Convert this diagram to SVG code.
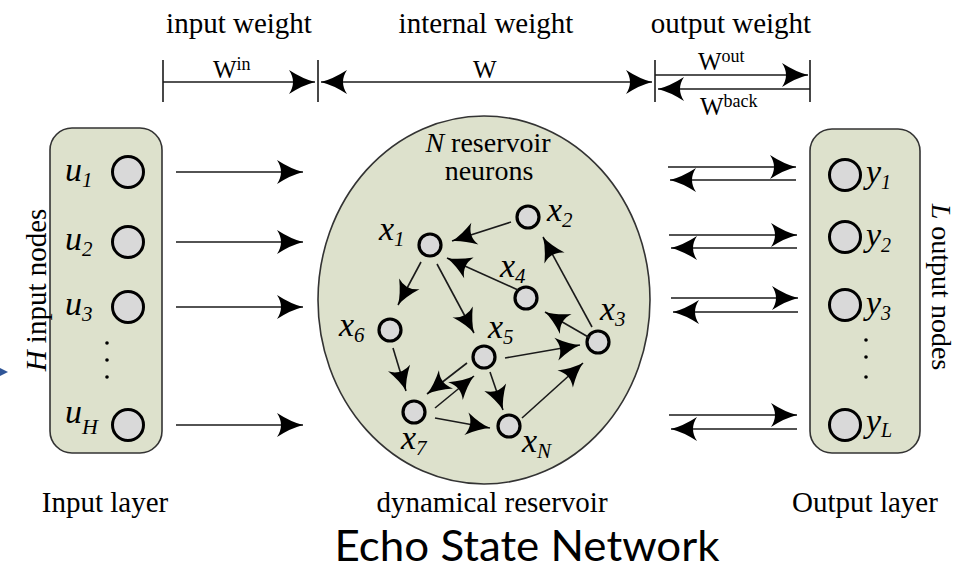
<svg xmlns="http://www.w3.org/2000/svg" width="956" height="571" viewBox="0 0 956 571">
<style>
.t{font-family:"Liberation Serif","Times New Roman",serif;fill:#000}
.lbl{font-size:29px}
.v{font-family:"Liberation Serif","Times New Roman",serif;font-style:italic;font-size:34px;fill:#000}
.w{font-family:"Liberation Serif","Times New Roman",serif;font-size:25px;fill:#000}
.ln{stroke:#1a1a1a;stroke-width:1.6;fill:none}
.tick{stroke:#1a1a1a;stroke-width:1.6}
.panel{fill:#dde1cc;stroke:#333;stroke-width:1.6}
.io{fill:#d9d9d9;stroke:#000;stroke-width:3}
.rn{fill:#d9d9d9;stroke:#000;stroke-width:3.2}
.dot{fill:#000}
</style>
<defs>
<marker id="ah" markerUnits="userSpaceOnUse" viewBox="-27 -13 28 26" refX="0" refY="0" markerWidth="28" markerHeight="26" orient="auto-start-reverse" overflow="visible">
<path d="M0,0 Q-12,-3 -26,-12 Q-18,0 -26,12 Q-12,3 0,0 Z" fill="#000"/>
</marker>
<marker id="as" markerUnits="userSpaceOnUse" viewBox="-25 -12 26 24" refX="0" refY="0" markerWidth="26" markerHeight="24" orient="auto" overflow="visible">
<path d="M0,0 Q-11,-2.8 -24,-11.5 Q-16.5,0 -24,11.5 Q-11,2.8 0,0 Z" fill="#000"/>
</marker>
</defs>
<rect width="956" height="571" fill="#fff"/>

<!-- headers -->
<text class="t lbl" x="239" y="33" text-anchor="middle">input weight</text>
<text class="t lbl" x="486" y="33" text-anchor="middle">internal weight</text>
<text class="t lbl" x="731" y="33" text-anchor="middle">output weight</text>

<!-- weight dimension lines -->
<g id="weights">
<line class="tick" x1="163" y1="60" x2="163" y2="102"/>
<line class="tick" x1="318" y1="60" x2="318" y2="102"/>
<line class="tick" x1="655" y1="60" x2="655" y2="102"/>
<line class="tick" x1="810" y1="60" x2="810" y2="102"/>
<line class="ln" x1="163" y1="82" x2="315" y2="82" marker-end="url(#ah)"/>
<line class="ln" x1="321" y1="82" x2="652" y2="82" marker-start="url(#ah)" marker-end="url(#ah)"/>
<line class="ln" x1="655" y1="75" x2="808" y2="75" marker-end="url(#ah)"/>
<line class="ln" x1="810" y1="89" x2="658" y2="89" marker-end="url(#ah)"/>
<text class="w" x="213" y="78">W<tspan font-size="18" dy="-8">in</tspan></text>
<text class="w" x="473" y="78">W</text>
<text class="w" x="698" y="70">W<tspan font-size="18" dy="-8">out</tspan></text>
<text class="w" x="700" y="115">W<tspan font-size="18" dy="-8">back</tspan></text>
</g>

<!-- small blue mark at left edge -->
<polygon points="0,368 8,372 0,376" fill="#2f5597"/>

<!-- input layer -->
<g id="input-layer">
<rect class="panel" x="50" y="128" width="112" height="325" rx="22"/>
<circle class="io" cx="128" cy="172" r="15.5"/>
<circle class="io" cx="128" cy="242" r="15.5"/>
<circle class="io" cx="128" cy="307" r="15.5"/>
<circle class="io" cx="128" cy="425" r="15.5"/>
<circle class="dot" cx="107" cy="343" r="1.8"/>
<circle class="dot" cx="107" cy="360" r="1.8"/>
<circle class="dot" cx="107" cy="377" r="1.8"/>
<text class="v" x="65" y="181">u<tspan font-size="21" dy="6">1</tspan></text>
<text class="v" x="65" y="250">u<tspan font-size="21" dy="6">2</tspan></text>
<text class="v" x="65" y="315">u<tspan font-size="21" dy="6">3</tspan></text>
<text class="v" x="65" y="423">u<tspan font-size="22" dy="11">H</tspan></text>
<text class="t lbl" transform="translate(46,290) rotate(-90)" text-anchor="middle"><tspan font-style="italic">H</tspan> input nodes</text>
</g>

<!-- reservoir -->
<g id="reservoir">
<ellipse class="panel" cx="484" cy="300" rx="166" ry="184"/>
<text class="t" font-size="28" x="488" y="152" text-anchor="middle"><tspan font-style="italic">N</tspan> reservoir</text>
<text class="t" font-size="28" x="489" y="180" text-anchor="middle">neurons</text>
</g>

<!-- output layer -->
<g id="output-layer">
<rect class="panel" x="810" y="129" width="110" height="324" rx="22"/>
<circle class="io" cx="845" cy="175" r="15.5"/>
<circle class="io" cx="845" cy="237" r="15.5"/>
<circle class="io" cx="845" cy="305" r="15.5"/>
<circle class="io" cx="845" cy="425" r="15.5"/>
<circle class="dot" cx="866" cy="340" r="1.8"/>
<circle class="dot" cx="866" cy="357" r="1.8"/>
<circle class="dot" cx="866" cy="377" r="1.8"/>
<text class="v" x="866" y="183">y<tspan font-size="20" dy="6">1</tspan></text>
<text class="v" x="866" y="246">y<tspan font-size="20" dy="6">2</tspan></text>
<text class="v" x="866" y="314">y<tspan font-size="20" dy="6">3</tspan></text>
<text class="v" x="866" y="432">y<tspan font-size="20" dy="5">L</tspan></text>
<text class="t" font-size="28" transform="translate(932,287) rotate(90)" text-anchor="middle"><tspan font-style="italic">L</tspan> output nodes</text>
</g>

<!-- reservoir neurons -->
<g id="x1"><circle class="rn" cx="430" cy="245" r="11"/><text class="v" x="379" y="240">x<tspan font-size="21" dy="6">1</tspan></text></g>
<g id="x2"><circle class="rn" cx="528" cy="217" r="11"/><text class="v" x="547" y="221">x<tspan font-size="21" dy="6">2</tspan></text></g>
<g id="x4"><circle class="rn" cx="526" cy="298" r="11"/><text class="v" x="500" y="277">x<tspan font-size="21" dy="6">4</tspan></text></g>
<g id="x3"><circle class="rn" cx="598" cy="342" r="11"/><text class="v" x="600" y="320">x<tspan font-size="21" dy="6">3</tspan></text></g>
<g id="x6"><circle class="rn" cx="390" cy="330" r="11"/><text class="v" x="339" y="336">x<tspan font-size="21" dy="6">6</tspan></text></g>
<g id="x5"><circle class="rn" cx="484" cy="357" r="11"/><text class="v" x="488" y="338">x<tspan font-size="21" dy="6">5</tspan></text></g>
<g id="x7"><circle class="rn" cx="414" cy="412" r="11"/><text class="v" x="401" y="449">x<tspan font-size="21" dy="6">7</tspan></text></g>
<g id="xN"><circle class="rn" cx="509" cy="426" r="11"/><text class="v" x="522" y="452">x<tspan font-size="21" dy="6">N</tspan></text></g>

<!-- connectors -->
<g id="connectors">
<line class="ln" x1="176" y1="172" x2="303" y2="172" marker-end="url(#ah)"/>
<line class="ln" x1="176" y1="242" x2="303" y2="242" marker-end="url(#ah)"/>
<line class="ln" x1="176" y1="307" x2="303" y2="307" marker-end="url(#ah)"/>
<line class="ln" x1="176" y1="425" x2="303" y2="425" marker-end="url(#ah)"/>

<line class="ln" x1="668" y1="167" x2="796" y2="167" marker-end="url(#ah)"/>
<line class="ln" x1="796" y1="180" x2="670" y2="180" marker-end="url(#ah)"/>
<line class="ln" x1="669" y1="235" x2="797" y2="235" marker-end="url(#ah)"/>
<line class="ln" x1="797" y1="248" x2="671" y2="248" marker-end="url(#ah)"/>
<line class="ln" x1="671" y1="298" x2="798" y2="298" marker-end="url(#ah)"/>
<line class="ln" x1="798" y1="312" x2="673" y2="312" marker-end="url(#ah)"/>
<line class="ln" x1="669" y1="415" x2="797" y2="415" marker-end="url(#ah)"/>
<line class="ln" x1="797" y1="429" x2="671" y2="429" marker-end="url(#ah)"/>

<line class="ln" x1="511" y1="222" x2="452" y2="241" marker-end="url(#as)"/>
<line class="ln" x1="518" y1="290" x2="447" y2="258" marker-end="url(#as)"/>
<line class="ln" x1="421" y1="262" x2="398" y2="305" marker-end="url(#as)"/>
<line class="ln" x1="437" y1="264" x2="474" y2="333" marker-end="url(#as)"/>
<line class="ln" x1="393" y1="348" x2="406" y2="391" marker-end="url(#as)"/>
<line class="ln" x1="467" y1="363" x2="427" y2="394" marker-end="url(#as)"/>
<line class="ln" x1="435" y1="408" x2="474" y2="376" marker-end="url(#as)"/>
<line class="ln" x1="490" y1="372" x2="503" y2="410" marker-end="url(#as)"/>
<line class="ln" x1="435" y1="418" x2="490" y2="428" marker-end="url(#as)"/>
<line class="ln" x1="505" y1="358" x2="580" y2="345" marker-end="url(#as)"/>
<line class="ln" x1="522" y1="418" x2="583" y2="363" marker-end="url(#as)"/>
<line class="ln" x1="590" y1="338" x2="545" y2="312" marker-end="url(#as)"/>
<line class="ln" x1="592" y1="327" x2="543" y2="237" marker-end="url(#as)"/>
</g>

<!-- bottom labels -->
<text class="t lbl" x="105" y="512" text-anchor="middle">Input layer</text>
<text class="t lbl" x="492" y="512" text-anchor="middle">dynamical reservoir</text>
<text class="t lbl" x="865" y="512" text-anchor="middle">Output layer</text>
<text x="527" y="561" text-anchor="middle" font-family="Lato, 'Open Sans', sans-serif" font-size="42" textLength="385" lengthAdjust="spacingAndGlyphs" fill="#000">Echo State Network</text>
</svg>
